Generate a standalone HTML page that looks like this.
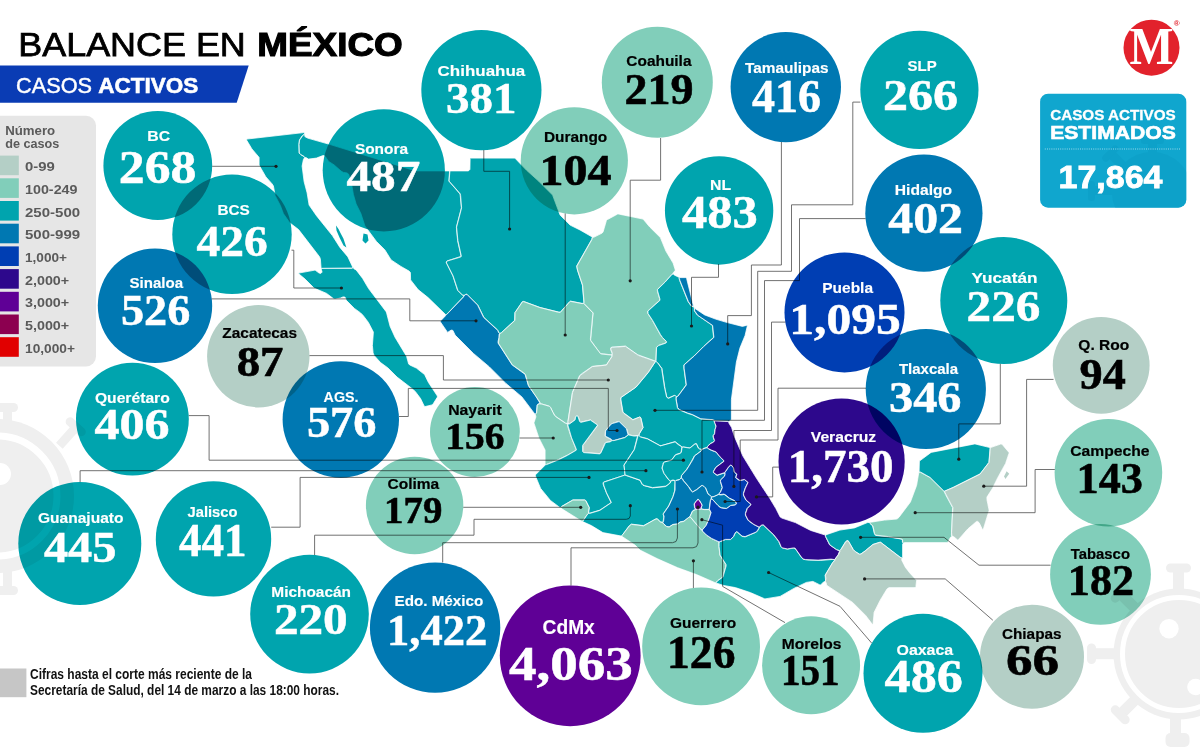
<!DOCTYPE html>
<html lang="es"><head><meta charset="utf-8"><title>Balance en México - Casos activos</title>
<style>
html,body{margin:0;padding:0;background:#fff;}
body{width:1200px;height:747px;overflow:hidden;position:relative;font-family:'Liberation Sans', sans-serif;}
svg{position:absolute;left:0;top:0;display:block;}
.c{mix-blend-mode:multiply;}
.st{stroke:#fff;stroke-width:0.8;stroke-linejoin:round;}
.ln{fill:none;stroke:#585858;stroke-width:0.85;mix-blend-mode:multiply;}
.lb{font-family:'Liberation Sans', sans-serif;font-weight:700;font-size:15.5px;}
.nm{font-family:'Liberation Serif', serif;font-weight:700;font-size:44px;}
.w{fill:#fff;} .k{fill:#000;} .nm.w{stroke:#fff;stroke-width:0.5;} .nm.k{stroke:#000;stroke-width:0.6;} .lb.w{stroke:#fff;stroke-width:0.15;} .lb.k{stroke:#000;stroke-width:0.2;}
.lg{font-family:'Liberation Sans', sans-serif;font-weight:700;font-size:12.8px;fill:#5a5a5a;}
</style></head><body>
<svg width="1200" height="747" viewBox="0 0 1200 747">
<rect width="1200" height="747" fill="#fff"/>
<g id="deco" fill="#efefef" stroke="none">
<g id="virusL" fill="#efefef" stroke="none">
<circle cx="-3" cy="496" r="77"/>
<circle cx="-3" cy="496" r="60" fill="none" stroke="#fff" stroke-width="7"/>
<circle cx="0" cy="474" r="11" fill="#fff"/>
<rect x="3" y="408" width="9" height="24"/>
<rect x="-6" y="403" width="24" height="9" rx="4.5"/>
<rect x="3" y="568" width="9" height="22"/>
<rect x="-6" y="586" width="24" height="9" rx="4.5"/>
<g transform="translate(62,442) rotate(-48)"><rect x="-4.5" y="-4" width="24" height="9"/><rect x="16" y="-12" width="9" height="24" rx="4.5"/></g>
</g>
<g id="virusR" fill="#efefef" stroke="none">
<circle cx="1179" cy="654" r="65.5"/>
<circle cx="1179" cy="654" r="56.5" fill="none" stroke="#fff" stroke-width="5"/>
<circle cx="1169" cy="628.7" r="9.7" fill="#fff"/>
<circle cx="1195.5" cy="687" r="8.3" fill="#fff"/>
<rect x="1173" y="568" width="11" height="22"/>
<rect x="1166" y="563.5" width="25" height="9" rx="4.5"/>
<rect x="1093" y="648.2" width="22" height="11"/>
<rect x="1087" y="643.5" width="9" height="20.5" rx="4.5"/>
<rect x="1170" y="718" width="11" height="22"/>
<rect x="1165.5" y="733" width="24" height="14" rx="5"/>
<g transform="translate(1134,701) rotate(135)"><rect x="-4" y="-5.5" width="22" height="11"/><rect x="15" y="-11.5" width="9" height="23" rx="4.5"/></g>
<g transform="translate(1134,607) rotate(-135)"><rect x="-4" y="-5.5" width="22" height="11"/><rect x="15" y="-11.5" width="9" height="23" rx="4.5"/></g>
</g>

</g>
<path d="M0 115.8 H86 a10 10 0 0 1 10 10 V356.5 a10 10 0 0 1 -10 10 H0 Z" fill="#e6e6e6"/>
<rect x="0" y="155.6" width="18.8" height="19.6" fill="#b4cfc6"/>
<text class="lg" x="25" y="171.2" textLength="29.8" lengthAdjust="spacingAndGlyphs">0-99</text>
<rect x="0" y="178.3" width="18.8" height="19.6" fill="#81ceba"/>
<text class="lg" x="25" y="193.9" textLength="52.5" lengthAdjust="spacingAndGlyphs">100-249</text>
<rect x="0" y="201.0" width="18.8" height="19.6" fill="#00a4ae"/>
<text class="lg" x="25" y="216.6" textLength="55.2" lengthAdjust="spacingAndGlyphs">250-500</text>
<rect x="0" y="223.7" width="18.8" height="19.6" fill="#0078b2"/>
<text class="lg" x="25" y="239.3" textLength="55.2" lengthAdjust="spacingAndGlyphs">500-999</text>
<rect x="0" y="246.4" width="18.8" height="19.6" fill="#003eb3"/>
<text class="lg" x="25" y="262.0" textLength="42.0" lengthAdjust="spacingAndGlyphs">1,000+</text>
<rect x="0" y="269.1" width="18.8" height="19.6" fill="#2d088c"/>
<text class="lg" x="25" y="284.7" textLength="44.2" lengthAdjust="spacingAndGlyphs">2,000+</text>
<rect x="0" y="291.8" width="18.8" height="19.6" fill="#5f0096"/>
<text class="lg" x="25" y="307.4" textLength="44.2" lengthAdjust="spacingAndGlyphs">3,000+</text>
<rect x="0" y="314.5" width="18.8" height="19.6" fill="#8c0050"/>
<text class="lg" x="25" y="330.1" textLength="44.2" lengthAdjust="spacingAndGlyphs">5,000+</text>
<rect x="0" y="337.2" width="18.8" height="19.6" fill="#e10000"/>
<text class="lg" x="25" y="352.8" textLength="50.0" lengthAdjust="spacingAndGlyphs">10,000+</text>
<text class="lg" x="5.2" y="135" style="font-size:13.3px" textLength="50" lengthAdjust="spacingAndGlyphs">Número</text>
<text class="lg" x="5.2" y="147.6" style="font-size:13.3px" textLength="54.2" lengthAdjust="spacingAndGlyphs">de casos</text>
<text x="18.3" y="56.3" style="font-family:'Liberation Sans', sans-serif;font-size:32.7px;fill:#000;stroke:#000;stroke-width:0.75" textLength="227.5" lengthAdjust="spacingAndGlyphs">BALANCE EN</text>
<text x="257.3" y="56.3" style="font-family:'Liberation Sans', sans-serif;font-size:32.7px;font-weight:700;fill:#000;stroke:#000;stroke-width:1.1" textLength="145.5" lengthAdjust="spacingAndGlyphs">MÉXICO</text>
<path d="M0 65.6 H248.7 L236.7 102.7 H0 Z" fill="#0a3cb4"/>
<text x="16" y="93.2" style="font-family:'Liberation Sans', sans-serif;font-size:22.1px;fill:#fff;stroke:#fff;stroke-width:0.45" textLength="76" lengthAdjust="spacingAndGlyphs">CASOS</text>
<text x="98.3" y="93.2" style="font-family:'Liberation Sans', sans-serif;font-size:22.1px;font-weight:700;fill:#fff;stroke:#fff;stroke-width:0.6" textLength="100" lengthAdjust="spacingAndGlyphs">ACTIVOS</text>
<circle cx="1151.5" cy="47.7" r="28" fill="#e2222c"/>
<text x="1151.5" y="63.8" text-anchor="middle" style="font-family:'Liberation Serif', serif;font-weight:700;font-size:52px;fill:#fff" textLength="44" lengthAdjust="spacingAndGlyphs">M</text>
<text x="1176.6" y="25.6" text-anchor="middle" style="font-family:'Liberation Sans', sans-serif;font-weight:700;font-size:8px;fill:#e2222c">®</text>
<rect x="1040.1" y="93.7" width="146.2" height="114" rx="8" ry="8" fill="#10a6ce"/>
<clipPath id="bx"><rect x="1040.1" y="93.7" width="146.2" height="114" rx="8" ry="8"/></clipPath>
<g clip-path="url(#bx)" fill="#0b97bf" opacity="0.35"><circle cx="1152" cy="192" r="40"/><rect x="1148" y="140" width="9" height="16"/><rect x="1141" y="137" width="23" height="7" rx="3.5"/><g transform="translate(1120,163) rotate(-135)"><rect x="-4" y="-4.5" width="16" height="9"/><rect x="10" y="-10" width="7" height="20" rx="3.5"/></g><rect x="1094" y="186" width="20" height="9"/><rect x="1088" y="181" width="7" height="20" rx="3.5"/></g>
<text x="1050.2" y="119.8" style="font-family:'Liberation Sans', sans-serif;font-weight:700;font-size:14.8px;fill:#fff;stroke:#fff;stroke-width:0.3" textLength="125.6" lengthAdjust="spacingAndGlyphs">CASOS ACTIVOS</text>
<text x="1050.2" y="139.3" style="font-family:'Liberation Sans', sans-serif;font-weight:700;font-size:18.2px;fill:#fff;stroke:#fff;stroke-width:0.6" textLength="125.6" lengthAdjust="spacingAndGlyphs">ESTIMADOS</text>
<line x1="1044.8" y1="149" x2="1180" y2="149" stroke="#bfe6f2" stroke-width="0.8" stroke-dasharray="1 1.2"/>
<text x="1058.6" y="188" style="font-family:'Liberation Sans', sans-serif;font-weight:700;font-size:32px;fill:#fff;stroke:#fff;stroke-width:0.9" textLength="103.8" lengthAdjust="spacingAndGlyphs">17,864</text>
<rect x="0" y="668.5" width="26.4" height="28.7" fill="#c6c6c6"/>
<text x="30" y="679" style="font-family:'Liberation Sans', sans-serif;font-size:13.8px;font-weight:700;fill:#111" textLength="222" lengthAdjust="spacingAndGlyphs">Cifras hasta el corte más reciente de la</text>
<text x="30" y="695.3" style="font-family:'Liberation Sans', sans-serif;font-size:13.8px;font-weight:700;fill:#111" textLength="309" lengthAdjust="spacingAndGlyphs">Secretaría de Salud, del 14 de marzo a las 18:00 horas.</text>
<g id="map">
<path fill="#00a4ae" d="M247.0 139.5 L247.0 140.0 L252.2 148.6 L259.3 157.0 L259.4 157.0 L259.4 157.1 L259.4 157.2 L259.5 157.3 L259.5 157.4 L259.5 157.5 L259.5 157.6 L259.5 165.0 L266.2 176.6 L272.4 183.6 L272.4 183.6 L272.5 183.7 L273.7 185.6 L273.7 185.7 L273.7 185.7 L273.8 185.8 L273.8 185.9 L275.5 195.2 L280.7 205.4 L280.8 205.5 L283.7 213.4 L290.2 222.6 L298.8 229.3 L298.9 229.3 L298.9 229.4 L299.0 229.4 L319.9 256.6 L319.9 256.6 L320.0 256.7 L320.0 256.8 L320.7 258.9 L320.8 259.0 L320.8 259.1 L321.5 268.3 L321.5 268.4 L321.5 268.5 L321.5 268.5 L321.5 268.6 L322.4 271.7 L322.4 271.8 L322.5 271.9 L322.5 272.0 L322.5 272.1 L322.4 272.2 L322.4 272.2 L322.4 272.3 L322.4 272.4 L322.3 272.5 L322.3 272.5 L322.2 272.6 L321.3 273.5 L321.3 273.5 L321.2 273.6 L321.1 273.6 L321.0 273.7 L320.9 273.7 L320.8 273.7 L320.8 273.7 L320.7 273.7 L320.6 273.7 L319.2 273.5 L319.1 273.5 L319.0 273.5 L318.9 273.5 L318.9 273.4 L318.8 273.4 L315.0 270.5 L299.1 273.4 L299.2 273.6 L305.4 278.8 L305.4 278.9 L314.3 287.8 L326.7 293.0 L326.8 293.0 L326.9 293.0 L326.9 293.1 L333.6 298.3 L334.9 298.7 L340.2 297.7 L342.8 296.6 L342.9 296.5 L343.0 296.5 L343.1 296.5 L343.2 296.5 L343.2 296.5 L343.3 296.5 L344.7 296.7 L344.8 296.7 L344.9 296.7 L345.0 296.8 L345.1 296.8 L345.1 296.9 L345.2 296.9 L345.3 297.0 L345.3 297.0 L345.9 297.8 L345.9 297.9 L346.0 298.0 L346.0 298.0 L346.0 298.1 L346.5 299.9 L354.6 308.1 L360.8 312.5 L360.9 312.6 L360.9 312.6 L363.4 315.1 L363.5 315.2 L368.7 322.1 L368.7 322.2 L368.7 322.2 L373.7 331.8 L373.7 331.9 L373.7 332.0 L373.7 332.0 L373.8 332.1 L373.8 332.2 L373.8 332.3 L372.8 345.4 L373.5 352.8 L374.5 355.2 L380.9 362.3 L388.1 367.5 L388.1 367.6 L388.2 367.6 L397.4 376.8 L397.4 376.8 L413.3 389.0 L413.4 389.1 L415.9 391.6 L415.9 391.6 L416.0 391.7 L420.9 398.3 L421.0 398.4 L421.0 398.5 L424.5 405.6 L425.0 406.2 L431.9 404.5 L432.8 403.6 L437.0 397.0 L437.0 396.2 L428.1 382.6 L428.0 382.5 L424.3 374.9 L416.2 368.5 L409.5 365.3 L409.4 365.2 L409.4 365.2 L409.3 365.1 L408.4 364.2 L408.4 364.2 L408.3 364.1 L408.3 364.0 L408.2 363.9 L408.2 363.8 L406.2 356.5 L394.8 337.6 L394.7 337.5 L389.8 326.6 L389.7 326.5 L389.7 326.4 L386.2 313.0 L385.5 311.6 L368.3 288.9 L368.3 288.8 L362.3 278.6 L362.3 278.6 L355.9 270.2 L354.0 269.3 L354.0 269.2 L353.9 269.2 L353.8 269.1 L353.7 269.0 L352.9 268.0 L352.9 268.0 L352.8 267.9 L352.7 267.9 L352.6 267.8 L352.6 267.8 L352.5 267.7 L352.5 267.7 L352.4 267.6 L352.4 267.5 L347.5 257.1 L339.6 247.7 L339.5 247.6 L332.0 235.9 L332.0 235.9 L316.3 216.1 L316.3 216.1 L308.9 205.4 L308.8 205.4 L308.8 205.3 L308.7 205.2 L308.7 205.2 L308.7 205.1 L306.7 193.0 L306.7 193.0 L303.7 181.8 L303.7 181.6 L301.7 166.3 L301.7 166.2 L301.7 166.1 L301.7 166.0 L303.0 159.6 L303.0 159.6 L303.0 159.5 L303.0 159.4 L303.1 159.3 L304.1 157.6 L304.2 157.6 L304.2 157.5 L304.3 157.4 L304.4 157.4 L304.5 157.3 L304.5 157.3 L304.6 157.3 L304.7 157.2 L304.8 157.2 L304.9 157.2 L306.0 157.2 L306.1 157.2 L306.1 157.2 L306.2 157.3 L306.3 157.3 L306.4 157.3 L306.5 157.4 L308.5 158.7 L316.3 157.7 L322.6 155.3 L322.7 155.3 L322.8 155.2 L322.9 155.2 L323.0 155.2 L323.9 155.2 L324.0 155.2 L324.1 155.2 L324.2 155.3 L324.3 155.3 L324.4 155.3 L324.4 155.4 L324.5 155.4 L325.8 156.5 L325.9 156.6 L325.9 156.6 L326.0 156.7 L328.9 161.1 L334.3 164.5 L334.4 164.6 L334.4 164.6 L341.4 170.8 L343.5 172.0 L346.8 172.5 L346.9 172.5 L347.0 172.5 L347.1 172.5 L347.1 172.6 L347.2 172.6 L348.7 173.7 L348.8 173.7 L348.8 173.8 L348.9 173.9 L348.9 173.9 L349.0 174.0 L349.0 174.1 L349.1 174.2 L351.7 182.7 L351.8 182.8 L353.8 194.3 L353.8 194.3 L356.5 203.7 L361.2 213.4 L361.3 213.5 L365.2 225.7 L376.7 241.1 L376.7 241.1 L385.1 249.5 L385.2 249.6 L385.2 249.7 L391.4 259.6 L401.1 266.0 L401.1 266.0 L409.3 270.7 L409.3 270.8 L409.4 270.8 L409.4 270.9 L410.5 271.9 L410.6 272.0 L410.6 272.1 L410.7 272.1 L410.7 272.2 L410.7 272.3 L410.8 272.4 L410.8 272.5 L410.8 272.6 L411.0 279.7 L418.4 289.3 L428.4 297.3 L428.4 297.3 L445.7 314.2 L445.8 314.2 L445.9 314.3 L445.9 314.4 L445.9 314.5 L446.0 314.5 L446.0 314.6 L446.0 314.7 L446.0 314.8 L446.0 314.9 L446.0 315.0 L446.0 315.0 L445.8 315.8 L445.8 315.9 L445.7 316.0 L445.7 316.1 L445.6 316.2 L445.6 316.2 L440.8 321.3 L440.8 321.7 L447.7 331.8 L450.7 329.9 L450.8 329.8 L450.9 329.8 L451.0 329.8 L451.1 329.8 L451.2 329.7 L451.3 329.7 L451.4 329.8 L452.7 329.9 L452.7 330.0 L452.8 330.0 L452.9 330.0 L453.0 330.1 L453.1 330.1 L453.1 330.2 L453.2 330.2 L453.3 330.3 L453.3 330.4 L453.3 330.4 L455.5 334.9 L473.6 353.1 L473.6 353.1 L489.6 366.6 L489.7 366.6 L506.1 383.1 L506.1 383.1 L522.1 396.5 L522.2 396.6 L522.2 396.7 L535.4 414.0 L535.4 414.1 L535.5 414.1 L535.6 414.2 L535.6 414.3 L535.7 414.3 L535.7 414.4 L535.8 414.5 L535.8 414.6 L535.8 414.7 L536.2 416.7 L536.2 416.8 L536.3 416.8 L536.2 416.9 L536.2 417.0 L536.2 417.1 L534.3 422.9 L539.2 437.7 L545.4 449.8 L545.5 449.9 L545.5 450.0 L545.5 450.1 L545.5 450.2 L545.5 450.2 L545.5 464.3 L545.5 464.4 L545.5 464.4 L545.5 464.5 L545.5 464.6 L545.5 464.7 L545.5 464.8 L545.3 465.4 L545.3 465.5 L545.2 465.5 L545.2 465.6 L545.1 465.7 L545.1 465.7 L535.8 475.0 L535.8 475.8 L541.0 488.2 L550.6 500.1 L560.4 507.4 L560.5 507.4 L560.6 507.4 L560.7 507.4 L560.8 507.4 L560.8 507.4 L560.9 507.4 L561.0 507.5 L561.1 507.5 L561.2 507.6 L561.2 507.6 L562.6 508.8 L582.2 521.0 L582.3 521.0 L582.4 521.0 L582.4 521.0 L582.5 521.0 L582.6 521.1 L582.7 521.1 L582.7 521.2 L582.8 521.2 L582.9 521.3 L582.9 521.3 L591.5 525.2 L591.6 525.3 L603.0 532.2 L621.6 535.7 L621.7 535.7 L621.8 535.8 L621.8 535.8 L621.9 535.8 L622.0 535.9 L622.1 536.0 L622.1 536.0 L622.2 536.1 L635.3 544.8 L635.4 544.8 L635.4 544.9 L640.4 549.8 L657.3 558.3 L657.3 558.3 L677.5 567.2 L677.5 567.2 L696.7 574.2 L696.8 574.3 L715.7 582.5 L715.7 582.5 L715.8 582.5 L715.9 582.5 L716.0 582.5 L723.5 585.0 L723.5 585.0 L735.4 587.2 L735.5 587.3 L750.5 592.2 L750.5 592.3 L764.9 598.5 L780.0 596.0 L793.7 588.0 L793.7 588.0 L806.1 582.0 L806.2 582.0 L806.3 582.0 L806.4 582.0 L812.7 581.0 L812.7 581.0 L812.8 581.0 L812.9 581.0 L813.0 581.0 L813.1 581.0 L813.2 581.1 L820.0 584.5 L820.5 584.5 L823.2 581.7 L823.3 581.6 L823.4 581.6 L823.4 581.5 L823.5 581.5 L823.6 581.5 L823.7 581.4 L824.8 581.3 L824.9 581.3 L825.0 581.3 L825.1 581.3 L825.2 581.3 L825.3 581.3 L825.3 581.3 L825.4 581.4 L825.5 581.4 L825.6 581.5 L825.6 581.6 L825.6 581.6 L826.2 581.9 L826.2 582.0 L826.3 582.0 L826.4 582.1 L826.4 582.2 L826.5 582.2 L826.5 582.3 L826.5 582.4 L826.6 582.5 L827.0 584.7 L827.9 585.6 L852.8 602.0 L852.9 602.1 L852.9 602.1 L865.9 615.1 L866.0 615.2 L872.6 623.9 L872.7 623.5 L873.7 612.4 L873.7 612.3 L873.7 612.3 L873.8 612.2 L873.8 612.1 L879.8 600.2 L879.8 600.1 L886.5 589.0 L886.5 588.9 L886.6 588.9 L886.6 588.8 L886.7 588.7 L888.5 587.4 L888.6 587.4 L888.6 587.3 L888.7 587.3 L888.8 587.3 L888.9 587.2 L889.0 587.2 L889.0 587.2 L914.9 587.2 L915.5 586.5 L916.2 580.5 L909.8 573.7 L909.8 573.6 L905.1 567.7 L905.0 567.6 L905.0 567.5 L901.3 560.2 L901.3 560.1 L901.3 560.1 L901.3 560.0 L901.3 559.9 L901.3 559.8 L901.3 559.7 L901.3 559.7 L901.3 559.6 L901.7 558.1 L901.7 558.0 L901.8 557.9 L901.8 557.8 L901.9 557.8 L901.9 557.7 L902.0 557.7 L902.0 557.6 L902.1 557.6 L902.2 557.3 L902.2 544.3 L902.2 544.2 L902.2 544.1 L902.3 544.0 L902.3 544.0 L902.3 543.9 L902.4 543.8 L902.4 543.7 L902.9 543.1 L903.0 543.0 L903.0 543.0 L903.1 542.9 L903.2 542.8 L903.2 542.8 L903.3 542.8 L903.4 542.7 L903.5 542.7 L904.0 542.4 L904.1 542.3 L904.2 542.3 L904.3 542.3 L904.3 542.2 L904.4 542.2 L904.5 542.2 L947.4 542.2 L950.0 537.3 L950.0 537.2 L950.1 537.1 L950.1 537.1 L950.2 537.0 L950.3 537.0 L951.6 536.0 L951.7 536.0 L951.8 536.0 L951.8 535.9 L951.9 535.9 L952.0 535.9 L952.1 535.8 L952.2 535.8 L952.3 535.8 L952.4 535.9 L952.5 535.9 L953.6 536.2 L953.7 536.2 L953.8 536.3 L953.9 536.3 L954.0 536.4 L957.7 539.4 L958.4 539.0 L967.3 528.9 L967.4 528.8 L976.2 521.2 L976.3 521.1 L976.4 521.1 L976.4 521.0 L976.5 521.0 L976.6 521.0 L976.7 521.0 L976.8 521.0 L977.4 521.0 L977.5 521.0 L977.6 521.0 L977.7 521.0 L977.8 521.0 L977.9 521.1 L977.9 521.1 L978.0 521.2 L979.3 522.2 L979.4 522.3 L979.4 522.4 L979.5 522.5 L979.5 522.5 L982.7 529.1 L982.7 529.1 L983.0 528.7 L988.7 510.3 L986.5 499.5 L986.5 499.4 L986.5 499.3 L986.5 497.3 L986.5 497.2 L986.5 497.1 L986.5 497.0 L986.5 496.9 L986.6 496.9 L986.6 496.8 L992.3 487.9 L992.3 487.9 L997.3 477.7 L997.3 477.7 L1005.3 463.2 L1008.5 453.6 L1008.5 452.5 L1001.7 444.5 L1000.7 444.5 L990.5 448.0 L990.5 448.0 L990.4 448.0 L990.3 448.0 L990.2 448.0 L990.1 448.0 L990.0 448.0 L974.9 444.3 L931.3 452.7 L919.8 461.3 L919.5 471.7 L919.5 471.8 L919.5 471.9 L919.5 472.0 L919.4 472.0 L919.4 472.1 L919.4 472.2 L919.3 472.3 L919.3 472.3 L919.2 472.3 L917.0 485.4 L917.0 485.5 L917.0 485.6 L910.8 502.2 L910.7 502.3 L910.7 502.3 L910.6 502.4 L899.2 517.6 L899.1 517.7 L898.0 518.8 L897.9 518.9 L897.8 518.9 L897.8 519.0 L897.7 519.0 L896.6 519.5 L896.5 519.5 L896.4 519.5 L896.3 519.5 L884.4 520.5 L884.4 520.5 L869.7 522.8 L869.7 522.8 L869.7 522.8 L869.7 522.8 L869.6 522.8 L869.5 522.8 L869.4 522.8 L869.4 522.8 L867.5 523.0 L854.6 528.2 L854.5 528.3 L854.4 528.3 L840.0 530.5 L825.8 535.2 L825.8 535.3 L825.7 535.3 L825.6 535.4 L825.6 535.4 L825.5 535.4 L825.4 535.4 L825.3 535.4 L825.2 535.5 L825.1 535.4 L825.0 535.4 L825.0 535.4 L810.5 530.8 L810.5 530.7 L810.4 530.7 L795.2 523.0 L781.8 518.5 L781.7 518.5 L781.7 518.5 L781.6 518.4 L780.0 517.3 L779.9 517.2 L779.9 517.2 L779.8 517.1 L779.8 517.0 L779.7 516.9 L775.5 508.8 L775.5 508.8 L769.5 498.8 L769.5 498.8 L756.0 478.3 L756.0 478.3 L742.5 456.4 L742.5 456.2 L734.0 436.6 L734.0 436.5 L731.3 427.8 L728.6 423.4 L728.5 423.3 L728.5 423.3 L728.5 423.2 L728.5 423.1 L728.3 422.2 L728.3 422.1 L728.3 422.0 L728.3 421.9 L728.3 421.8 L728.3 421.7 L728.4 421.6 L728.4 421.5 L728.5 421.5 L728.5 421.4 L728.6 421.4 L729.0 420.8 L729.0 420.7 L729.1 420.6 L729.2 420.6 L729.2 420.5 L729.3 420.5 L731.0 419.6 L731.0 399.4 L731.0 399.3 L736.0 362.1 L736.0 362.0 L739.5 348.1 L739.5 347.9 L744.7 335.2 L746.9 325.9 L746.4 325.8 L742.6 326.7 L742.5 326.7 L742.4 326.8 L742.3 326.8 L742.2 326.7 L742.2 326.7 L727.3 323.0 L727.2 323.0 L715.5 319.5 L715.5 319.5 L704.5 315.3 L704.4 315.2 L704.4 315.2 L694.4 308.6 L694.3 308.6 L694.2 308.5 L694.2 308.4 L694.1 308.4 L694.1 308.3 L694.0 308.2 L694.0 308.1 L694.0 308.1 L694.0 308.0 L693.6 307.4 L693.6 307.4 L693.5 307.3 L693.4 307.3 L693.4 307.2 L693.3 307.1 L693.3 307.0 L693.3 306.9 L693.2 306.9 L693.2 306.8 L693.2 306.7 L693.2 306.7 L686.3 278.6 L685.7 278.0 L679.7 278.0 L679.6 278.0 L679.5 278.0 L679.5 278.0 L679.4 278.0 L679.3 278.0 L679.2 278.0 L679.1 277.9 L674.0 275.3 L674.0 275.2 L673.9 275.2 L673.8 275.1 L673.8 275.1 L673.7 275.0 L673.1 274.1 L673.0 274.1 L673.0 274.0 L672.9 273.9 L672.9 273.8 L672.8 273.8 L672.8 273.7 L672.8 273.6 L672.8 273.5 L672.8 273.4 L672.8 273.3 L673.0 272.7 L673.0 272.6 L673.0 272.5 L673.0 272.4 L673.1 272.3 L673.2 272.3 L674.7 270.5 L674.7 269.4 L672.8 263.3 L665.5 251.4 L665.5 251.3 L665.5 251.2 L660.0 237.8 L649.4 227.2 L649.3 227.1 L642.9 219.5 L617.9 214.3 L607.6 219.9 L606.7 220.8 L603.5 231.9 L603.5 232.0 L603.5 232.0 L603.4 232.1 L603.4 232.2 L602.5 233.3 L602.4 233.4 L602.4 233.4 L602.3 233.5 L602.2 233.5 L594.4 237.4 L594.3 237.5 L594.2 237.5 L594.1 237.5 L592.9 237.7 L592.8 237.7 L592.7 237.7 L592.7 237.7 L592.6 237.7 L592.5 237.7 L592.4 237.6 L592.3 237.6 L592.2 237.6 L592.2 237.5 L592.1 237.4 L592.1 237.4 L579.7 230.2 L579.7 230.2 L570.0 225.5 L569.9 225.5 L569.9 225.4 L569.8 225.3 L559.9 215.5 L559.8 215.4 L559.8 215.3 L559.7 215.2 L559.7 215.2 L552.3 195.3 L538.3 181.4 L538.3 181.4 L526.1 170.4 L526.1 170.4 L514.7 158.5 L470.8 158.5 L470.5 158.8 L470.3 169.2 L470.3 169.3 L470.3 169.4 L470.2 169.5 L470.2 169.6 L470.1 169.7 L470.1 169.7 L469.5 170.5 L469.5 170.6 L469.4 170.6 L469.3 170.7 L469.3 170.7 L469.2 170.8 L468.4 171.2 L468.3 171.2 L468.2 171.2 L468.2 171.3 L468.1 171.3 L468.0 171.3 L449.9 171.3 L449.9 171.3 L449.8 171.3 L449.7 171.3 L449.6 171.3 L449.6 171.3 L415.4 171.3 L415.4 171.3 L415.3 171.3 L415.2 171.2 L330.3 145.0 L330.3 145.0 L307.6 138.5 L307.5 138.5 L307.4 138.4 L304.9 137.1 L304.8 137.1 L304.8 137.0 L304.7 136.9 L304.6 136.9 L304.6 136.8 L304.5 136.7 L304.5 136.7 L304.5 136.6 L304.5 136.5 L304.4 136.4 L304.2 134.2 L304.2 134.2 L304.2 134.1 L304.2 134.0 L304.2 134.0 L304.2 133.9 L304.2 133.8 L304.2 133.4 L303.5 133.0 L247.0 139.5 Z"/>
<path class="st" fill="#00a4ae" d="M246.6 139.1 L246.6 140.1 L251.9 148.9 L259.1 157.4 L259.1 165.1 L265.9 176.9 L272.1 183.9 L273.4 185.9 L275.1 195.4 L280.4 205.6 L283.4 213.6 L289.9 222.9 L298.6 229.6 L319.6 256.9 L320.4 259.1 L321.1 268.4 L351.9 268.1 L352.9 267.6 L347.9 256.9 L339.9 247.4 L332.4 235.6 L316.6 215.9 L309.1 205.1 L307.1 192.9 L304.1 181.6 L302.1 166.1 L303.4 159.6 L304.6 157.6 L304.1 156.6 L300.6 154.6 L299.1 153.1 L298.9 144.4 L299.4 140.1 L301.9 136.1 L304.6 133.9 L304.6 133.1 L303.6 132.6 Z"/>
<path class="st" fill="#00a4ae" d="M298.6 273.1 L298.9 273.9 L305.1 279.1 L314.1 288.1 L326.6 293.4 L333.4 298.6 L334.9 299.1 L340.4 298.1 L343.1 296.9 L344.9 297.1 L345.6 298.1 L346.1 300.1 L354.4 308.4 L360.6 312.9 L363.1 315.4 L368.4 322.4 L373.4 332.1 L372.4 345.4 L373.1 352.9 L374.1 355.4 L380.6 362.6 L387.9 367.9 L397.1 377.1 L413.1 389.4 L415.6 391.9 L420.6 398.6 L424.1 405.9 L424.9 406.6 L432.1 404.9 L433.1 403.9 L437.4 397.1 L437.4 396.1 L428.4 382.4 L424.6 374.6 L416.4 368.1 L409.6 364.9 L408.6 363.9 L406.6 356.4 L395.1 337.4 L390.1 326.4 L386.6 312.9 L385.9 311.4 L368.6 288.6 L362.6 278.4 L356.1 269.9 L354.1 268.9 L353.1 267.6 L351.9 268.4 L321.9 268.4 L321.1 268.6 L322.1 272.1 L320.9 273.4 L319.1 273.1 L315.1 270.1 Z"/>
<path class="st" fill="#00a4ae" d="M302.9 135.4 L299.6 140.1 L299.1 144.4 L299.4 153.1 L300.6 154.4 L304.1 156.4 L304.9 157.6 L306.1 157.6 L308.4 159.1 L316.4 158.1 L322.9 155.6 L324.1 155.6 L325.6 156.9 L328.6 161.4 L334.1 164.9 L341.1 171.1 L343.4 172.4 L346.9 172.9 L348.6 174.1 L351.4 182.9 L353.4 194.4 L356.1 203.9 L360.9 213.6 L364.9 225.9 L376.4 241.4 L384.9 249.9 L391.1 259.9 L400.9 266.4 L409.1 271.1 L410.4 272.4 L410.6 279.9 L418.1 289.6 L428.1 297.6 L445.6 314.6 L446.6 314.4 L463.4 296.9 L463.9 295.6 L462.4 295.1 L457.6 290.4 L452.9 275.9 L446.1 262.1 L447.1 260.9 L461.1 256.4 L457.6 240.6 L456.4 227.1 L461.4 207.9 L460.1 194.1 L448.9 181.1 L449.6 170.9 L415.4 170.9 L330.4 144.6 L307.6 138.1 L304.9 136.6 L304.6 134.1 Z"/>
<path class="st" fill="#00a4ae" d="M449.9 170.9 L449.1 181.1 L460.1 193.6 L460.6 195.4 L461.6 207.9 L456.6 227.1 L457.9 240.6 L461.4 256.4 L460.4 257.1 L447.1 261.1 L446.4 261.9 L446.6 263.1 L453.1 275.9 L457.9 290.4 L462.4 294.9 L464.1 295.4 L466.1 294.1 L467.1 294.4 L477.9 305.1 L483.9 317.4 L497.6 329.9 L499.1 333.1 L500.1 333.4 L501.6 332.4 L514.6 320.4 L514.9 312.6 L522.4 301.6 L523.6 301.4 L539.9 307.4 L558.9 312.1 L560.4 312.1 L569.9 301.4 L570.6 301.1 L582.1 303.4 L583.6 303.1 L583.9 302.4 L582.4 285.1 L577.4 270.1 L576.6 266.1 L591.6 239.6 L592.4 237.1 L579.9 229.9 L570.1 225.1 L560.1 215.1 L552.6 195.1 L538.6 181.1 L526.4 170.1 L514.9 158.1 L470.6 158.1 L470.1 158.6 L469.9 169.4 L469.1 170.4 L468.1 170.9 Z"/>
<path class="st" fill="#81ceba" d="M617.9 213.9 L607.4 219.6 L606.4 220.6 L603.1 231.9 L602.1 233.1 L594.1 237.1 L592.6 237.4 L591.9 239.6 L576.9 266.1 L577.6 270.1 L582.6 285.1 L584.1 302.4 L583.9 303.4 L593.1 312.9 L590.6 340.1 L599.6 352.6 L600.9 353.6 L611.9 354.9 L612.1 353.4 L610.6 349.4 L610.9 347.6 L612.1 347.1 L625.4 346.1 L637.4 354.6 L655.4 361.1 L655.9 360.4 L656.4 347.4 L658.6 345.4 L665.9 342.9 L666.4 341.6 L662.1 337.4 L660.1 334.4 L652.4 320.4 L647.9 313.6 L647.6 311.1 L659.6 300.4 L659.6 298.9 L657.4 290.9 L657.4 289.4 L664.9 282.1 L672.1 274.1 L673.1 273.9 L673.4 272.6 L675.1 270.6 L675.1 269.4 L673.1 263.1 L665.9 251.1 L660.4 237.6 L649.6 226.9 L643.1 219.1 Z"/>
<path class="st" fill="#00a4ae" d="M673.4 273.9 L672.1 274.4 L665.1 282.1 L657.6 289.4 L657.6 290.9 L659.9 298.9 L659.9 300.4 L647.9 311.1 L648.1 313.6 L652.6 320.4 L660.4 334.4 L662.4 337.4 L666.6 341.6 L666.6 342.4 L665.9 343.1 L658.6 345.6 L656.6 347.4 L656.1 360.4 L655.6 361.4 L657.6 362.6 L661.9 368.4 L665.1 389.4 L666.9 397.1 L668.1 398.1 L674.4 395.4 L675.1 395.4 L676.4 396.6 L677.6 396.4 L686.1 384.9 L683.9 368.1 L683.9 364.9 L694.1 355.9 L703.6 346.4 L713.6 337.4 L712.4 325.4 L697.1 314.9 L694.4 310.9 L694.4 307.9 L693.9 307.1 L691.1 305.9 L688.1 301.6 L679.6 280.4 L679.1 278.4 L679.4 277.6 L674.1 274.9 Z"/>
<path class="st" fill="#0078b2" d="M694.4 308.1 L694.6 310.9 L697.9 315.4 L712.6 325.4 L713.9 337.4 L703.6 346.6 L694.1 356.1 L684.1 364.9 L684.1 368.1 L686.4 384.9 L678.1 396.1 L676.4 396.9 L676.1 398.9 L677.6 407.6 L679.4 409.6 L687.6 413.1 L692.4 414.6 L700.9 418.9 L712.4 419.6 L715.9 420.9 L727.6 421.1 L728.9 421.6 L729.4 420.9 L731.4 419.9 L731.4 399.4 L736.4 362.1 L739.9 348.1 L745.1 335.4 L747.4 325.6 L746.4 325.4 L742.4 326.4 L727.4 322.6 L715.6 319.1 L704.6 314.9 Z M679.6 277.6 L679.4 278.4 L679.9 280.4 L688.4 301.6 L691.1 305.6 L693.6 306.6 L686.6 278.4 L685.9 277.6 Z"/>
<path class="st" fill="#0078b2" d="M465.6 294.6 L463.9 295.9 L463.6 296.9 L446.6 314.6 L445.6 314.9 L445.4 315.9 L440.4 321.1 L440.4 321.9 L447.6 332.4 L451.1 330.1 L452.9 330.4 L455.1 335.1 L473.4 353.4 L489.4 366.9 L505.9 383.4 L521.9 396.9 L535.1 414.4 L536.4 412.9 L537.1 405.1 L537.9 404.1 L540.1 403.4 L536.1 396.6 L528.4 385.6 L525.1 374.4 L512.1 364.9 L498.1 343.1 L498.1 341.1 L499.1 337.6 L499.1 334.6 L499.6 333.6 L498.4 332.4 L497.9 330.6 L483.6 317.4 L477.6 305.1 L467.1 294.6 Z"/>
<path class="st" fill="#81ceba" d="M522.4 301.9 L515.1 312.6 L514.9 320.4 L501.6 332.6 L499.6 333.9 L498.4 343.1 L512.4 364.9 L523.9 372.9 L525.4 374.4 L528.6 385.6 L540.1 402.4 L540.4 403.6 L549.4 406.1 L550.6 407.4 L553.1 412.6 L555.6 416.4 L565.6 423.1 L567.9 423.6 L567.9 421.4 L572.4 392.4 L579.6 375.6 L581.1 374.1 L592.4 366.4 L606.4 364.9 L611.6 356.9 L611.9 355.1 L601.9 354.1 L600.4 353.6 L590.6 340.6 L590.4 338.9 L592.9 312.9 L583.6 303.4 L582.1 303.6 L570.6 301.4 L569.9 301.6 L560.4 312.4 L558.9 312.4 L539.9 307.6 L523.6 301.6 Z"/>
<path class="st" fill="#00a4ae" d="M655.4 361.6 L648.4 372.4 L636.1 387.1 L620.9 397.6 L620.9 399.9 L623.1 412.4 L632.9 419.6 L640.1 416.9 L641.1 418.4 L643.1 427.6 L639.6 433.4 L638.9 435.4 L640.6 436.9 L647.4 438.6 L659.6 445.4 L661.4 445.6 L675.1 441.6 L682.1 447.1 L683.1 446.9 L689.9 447.9 L694.9 443.9 L696.4 443.6 L698.4 447.9 L699.6 448.9 L701.9 449.4 L704.4 448.1 L707.1 447.6 L707.4 446.6 L710.1 443.6 L713.6 441.9 L714.4 440.6 L713.1 437.1 L713.1 435.6 L714.4 433.9 L714.9 429.6 L715.9 426.9 L715.1 423.6 L714.1 421.9 L714.4 420.9 L712.4 419.9 L700.9 419.1 L692.4 414.9 L687.6 413.4 L679.4 409.9 L678.1 408.9 L677.4 407.6 L675.9 398.9 L676.1 396.6 L675.1 395.6 L674.4 395.6 L668.4 398.4 L666.6 397.1 L664.4 386.9 L661.6 368.4 L657.4 362.6 L656.1 361.6 Z"/>
<path class="st" fill="#b4cfc6" d="M655.4 361.4 L638.4 355.4 L625.4 346.4 L612.1 347.4 L610.9 347.9 L610.9 349.4 L612.4 353.4 L612.1 356.4 L606.4 365.1 L592.4 366.6 L579.9 375.6 L572.6 392.4 L568.1 421.4 L568.1 423.6 L569.6 423.6 L574.1 420.6 L575.1 419.4 L575.4 417.1 L576.9 415.4 L578.4 416.9 L579.9 421.4 L580.6 422.1 L590.4 419.9 L597.9 425.1 L582.9 445.4 L582.9 451.6 L583.6 452.4 L599.9 453.6 L601.1 451.9 L604.9 443.1 L605.6 442.4 L610.1 441.6 L611.9 440.6 L611.1 439.4 L605.9 436.9 L605.1 436.1 L605.4 430.9 L610.9 424.1 L618.1 421.4 L619.6 421.6 L626.6 428.6 L628.4 434.6 L634.1 435.9 L638.6 435.4 L639.4 433.4 L642.9 427.6 L640.6 417.6 L639.4 417.1 L632.9 419.9 L624.1 413.6 L622.6 411.9 L620.6 399.9 L620.6 397.6 L635.9 387.1 L648.1 372.4 Z"/>
<path class="st" fill="#0078b2" d="M619.1 421.6 L612.1 423.6 L610.4 424.9 L605.6 430.9 L605.4 436.1 L611.1 439.1 L612.1 440.4 L614.1 440.4 L624.9 437.4 L628.1 434.9 L626.4 428.6 Z"/>
<path class="st" fill="#81ceba" d="M539.6 403.9 L537.9 404.4 L537.4 405.1 L536.6 412.9 L535.4 414.4 L535.9 416.9 L533.9 422.9 L538.9 437.9 L545.1 450.1 L545.1 464.4 L546.6 464.4 L557.9 459.9 L567.4 455.1 L575.9 450.4 L576.1 449.4 L570.4 434.9 L567.6 426.1 L567.9 423.9 L565.6 423.4 L555.6 416.6 L554.6 415.6 L550.4 407.4 L549.4 406.4 L541.9 404.1 Z"/>
<path class="st" fill="#00a4ae" d="M576.9 415.6 L575.6 417.1 L575.1 419.9 L569.6 423.9 L568.1 423.9 L567.9 425.1 L571.6 437.9 L576.1 448.6 L576.4 450.1 L567.4 455.4 L557.9 460.1 L546.6 464.6 L545.1 464.6 L544.9 465.4 L535.4 474.9 L535.4 475.9 L540.6 488.4 L550.4 500.4 L560.4 507.9 L561.6 506.4 L572.9 499.9 L584.6 499.9 L585.9 500.6 L589.4 507.6 L588.6 512.9 L589.9 513.1 L599.9 510.1 L611.1 502.6 L606.4 492.9 L603.1 484.1 L603.1 482.6 L604.1 481.9 L624.1 475.4 L625.1 474.6 L623.9 465.1 L634.1 449.6 L637.6 435.9 L634.1 436.1 L628.4 434.9 L624.9 437.6 L614.1 440.6 L612.1 440.6 L610.1 441.9 L605.6 442.6 L600.9 452.9 L599.9 453.9 L583.6 452.6 L582.6 451.6 L582.6 445.4 L597.6 425.1 L590.4 420.1 L580.6 422.4 L579.6 421.4 L578.1 416.9 Z"/>
<path class="st" fill="#81ceba" d="M560.6 507.6 L562.4 509.1 L582.1 521.4 L582.9 521.1 L586.9 514.9 L588.6 513.1 L588.4 510.9 L589.1 507.6 L585.6 500.6 L584.6 500.1 L572.9 500.1 L561.6 506.6 Z"/>
<path class="st" fill="#00a4ae" d="M675.1 481.1 L673.9 480.4 L670.9 480.9 L670.4 482.9 L665.4 486.6 L652.6 487.9 L643.1 485.4 L642.1 484.4 L640.1 480.4 L624.9 475.1 L604.1 482.1 L603.4 482.6 L603.9 485.6 L606.6 492.9 L611.4 502.6 L599.9 510.4 L589.9 513.4 L588.6 513.4 L587.1 514.9 L582.6 521.6 L591.4 525.6 L602.9 532.6 L621.6 536.1 L629.1 525.9 L631.4 524.1 L643.6 525.6 L656.4 518.6 L657.6 518.9 L660.4 521.9 L662.9 522.4 L663.9 517.1 L663.1 513.9 L668.6 505.9 L672.9 496.6 L674.6 490.9 Z"/>
<path class="st" fill="#00a4ae" d="M638.1 435.6 L634.4 449.6 L624.1 465.1 L625.1 474.9 L640.1 480.1 L642.4 484.4 L644.6 485.6 L652.6 487.6 L665.9 486.1 L670.1 482.9 L670.4 481.1 L667.9 479.1 L663.4 472.4 L663.1 470.6 L662.1 468.9 L662.1 467.1 L663.1 464.6 L663.1 463.4 L664.4 461.9 L671.6 459.9 L675.6 454.6 L680.4 453.1 L681.1 452.1 L681.9 446.9 L677.9 444.4 L675.1 441.9 L660.4 445.9 L647.4 438.9 L640.6 437.1 L638.9 435.6 Z"/>
<path class="st" fill="#00a4ae" d="M696.4 443.9 L694.9 444.1 L689.9 448.1 L683.1 447.1 L682.1 447.4 L681.4 452.1 L680.4 453.4 L675.6 454.9 L671.6 460.1 L664.4 462.1 L663.6 462.9 L662.4 467.1 L662.4 468.9 L664.1 473.4 L669.4 480.4 L670.6 480.9 L672.1 480.1 L673.9 480.1 L675.4 480.9 L675.9 480.4 L679.6 479.4 L681.1 477.9 L681.4 475.6 L686.1 470.1 L688.9 465.9 L694.4 455.9 L701.1 450.9 L701.6 449.6 L699.6 449.1 L698.1 447.9 Z"/>
<path class="st" fill="#0078b2" d="M706.1 447.9 L702.1 449.4 L701.1 451.1 L694.6 455.9 L692.6 460.1 L686.9 469.4 L681.6 475.6 L681.4 477.9 L682.6 478.9 L683.1 480.1 L688.6 486.6 L692.1 491.6 L692.6 491.9 L696.9 489.4 L701.4 485.6 L702.4 485.4 L705.6 487.9 L708.1 493.9 L711.6 496.9 L714.1 496.4 L718.6 494.4 L720.4 491.9 L722.1 487.6 L720.4 481.6 L720.4 480.1 L724.1 476.4 L724.9 474.4 L724.6 472.9 L717.1 475.4 L713.4 472.6 L713.4 471.4 L715.6 467.4 L723.6 461.4 L723.6 460.6 L719.9 456.9 L716.1 452.1 L711.4 450.4 L708.4 448.9 L707.4 447.9 Z"/>
<path class="st" fill="#0078b2" d="M704.1 486.6 L702.4 485.6 L701.4 485.9 L696.9 489.6 L692.6 492.1 L690.9 490.6 L688.4 486.6 L683.6 481.1 L682.1 478.6 L681.1 478.1 L679.1 479.9 L675.9 480.6 L675.1 481.6 L675.1 489.9 L673.1 496.6 L668.9 505.9 L663.4 513.9 L663.4 514.9 L664.1 516.1 L663.6 521.1 L662.9 522.6 L663.4 523.6 L666.6 526.4 L669.1 526.9 L672.9 524.4 L677.6 523.9 L680.1 521.9 L683.9 521.1 L689.9 516.6 L692.4 511.1 L693.1 510.4 L695.9 509.4 L694.6 507.9 L694.1 503.9 L697.9 499.1 L699.6 500.4 L702.1 504.9 L701.1 508.9 L704.1 509.4 L709.1 509.4 L710.4 500.1 L711.1 499.1 L711.4 496.6 L707.9 493.9 L705.4 487.9 Z"/>
<path class="st" fill="#81ceba" d="M622.1 535.4 L621.9 536.4 L635.1 545.1 L640.1 550.1 L657.1 558.6 L677.4 567.6 L696.6 574.6 L715.6 582.9 L717.6 580.6 L722.6 577.1 L725.6 567.1 L725.9 564.6 L719.9 555.1 L718.9 546.4 L718.9 541.9 L711.6 538.6 L706.4 535.1 L699.9 528.4 L690.1 516.9 L688.4 517.6 L683.9 521.4 L680.1 522.1 L677.6 524.1 L672.9 524.6 L669.1 527.1 L666.6 526.6 L663.9 524.4 L662.6 522.6 L660.4 522.1 L657.1 518.9 L655.1 519.4 L643.6 525.9 L631.4 524.4 L629.4 525.9 Z"/>
<path class="st" fill="#81ceba" d="M709.4 509.6 L704.1 509.6 L701.4 509.1 L695.6 509.6 L692.6 511.1 L690.1 516.6 L700.1 528.4 L702.1 530.1 L705.9 525.6 L708.9 518.9 L710.9 512.6 Z"/>
<path class="st" fill="#00a4ae" d="M719.1 542.1 L719.1 546.4 L720.1 555.1 L726.1 564.6 L726.1 566.1 L722.9 577.1 L717.6 580.9 L715.9 582.9 L723.4 585.4 L735.4 587.6 L750.4 592.6 L764.9 598.9 L780.1 596.4 L793.9 588.4 L806.4 582.4 L812.9 581.4 L819.9 584.9 L820.6 584.9 L823.6 581.9 L825.1 581.6 L825.6 580.4 L825.1 575.1 L832.4 562.9 L834.6 560.1 L834.4 559.6 L833.1 559.4 L820.9 560.4 L809.4 560.1 L803.4 559.4 L801.9 558.1 L795.1 548.4 L793.6 548.1 L787.4 549.1 L782.4 548.1 L780.9 546.6 L778.6 541.4 L773.6 534.9 L762.9 524.9 L761.9 525.1 L759.4 527.4 L758.1 530.1 L756.4 532.1 L745.1 536.9 L742.1 536.4 L737.6 532.4 L736.4 531.9 L735.4 532.9 L733.6 536.6 L730.6 539.6 L725.4 539.6 Z"/>
<path class="st" fill="#003eb3" d="M730.9 465.1 L729.1 466.4 L724.9 472.6 L725.1 474.4 L724.4 476.4 L720.6 480.1 L720.6 481.6 L722.4 487.6 L720.6 491.9 L718.9 494.1 L719.9 494.6 L723.6 494.1 L725.1 494.6 L729.4 498.1 L734.6 500.6 L735.9 501.9 L736.4 503.9 L735.4 504.9 L730.6 505.6 L726.4 508.6 L721.4 507.9 L720.1 507.4 L718.1 505.6 L712.1 499.1 L711.4 499.1 L710.6 500.1 L709.4 509.1 L711.1 512.6 L709.1 518.9 L706.1 525.6 L702.4 529.9 L702.6 531.1 L706.4 534.9 L711.6 538.4 L719.1 541.9 L725.4 539.4 L730.6 539.4 L733.4 536.6 L735.1 532.9 L736.4 531.6 L737.6 532.1 L742.1 536.1 L745.1 536.6 L756.4 531.9 L759.1 527.9 L758.6 526.9 L753.9 524.6 L749.4 521.6 L747.9 520.1 L745.4 515.1 L745.4 513.4 L747.1 508.4 L750.6 504.9 L750.6 504.1 L745.9 500.1 L743.4 495.1 L743.4 493.4 L745.1 488.1 L747.9 482.4 L744.4 479.6 L739.9 480.6 L738.6 480.1 L735.6 477.6 L736.6 474.1 L734.1 472.1 L733.4 467.9 L732.9 466.9 Z"/>
<path class="st" fill="#0078b2" d="M711.6 497.1 L711.4 498.9 L712.1 498.9 L718.1 505.4 L720.1 507.1 L721.4 507.6 L726.4 508.4 L730.6 505.4 L735.4 504.6 L736.1 503.9 L735.6 501.9 L734.6 500.9 L729.4 498.4 L724.1 494.4 L721.9 494.9 L719.9 494.9 L718.9 494.4 L714.1 496.6 Z"/>
<path class="st" fill="#2d088c" d="M714.6 420.9 L714.4 421.9 L716.1 426.1 L715.1 429.6 L714.6 433.9 L713.4 435.6 L713.4 437.1 L714.6 440.6 L713.6 442.1 L710.1 443.9 L707.6 446.6 L707.4 447.6 L708.4 448.6 L711.4 450.1 L716.1 451.9 L720.1 456.9 L723.9 460.6 L723.9 461.4 L715.9 467.4 L713.6 471.4 L713.6 472.6 L717.1 475.1 L724.6 472.6 L728.9 466.4 L730.9 464.9 L733.1 466.9 L733.6 467.9 L734.4 472.1 L736.9 474.1 L735.9 477.6 L739.9 480.4 L744.4 479.4 L748.1 482.4 L745.4 488.1 L743.6 493.4 L743.6 495.1 L746.1 500.1 L750.9 504.1 L750.9 504.9 L747.4 508.4 L745.6 513.4 L745.6 515.1 L748.1 520.1 L753.9 524.4 L759.1 527.1 L761.9 524.9 L763.4 524.9 L773.9 534.9 L778.9 541.4 L781.1 546.6 L782.4 547.9 L787.4 548.9 L793.6 547.9 L795.1 548.1 L801.4 557.1 L803.4 559.1 L805.6 559.6 L818.1 560.1 L831.1 559.1 L834.6 559.6 L838.1 554.9 L839.6 550.9 L836.4 549.6 L829.6 544.9 L825.4 536.4 L825.4 535.1 L810.6 530.4 L795.4 522.6 L781.9 518.1 L780.1 516.9 L775.9 508.6 L769.9 498.6 L756.4 478.1 L742.9 456.1 L734.4 436.4 L731.6 427.6 L728.9 423.1 L728.6 421.6 Z"/>
<path class="st" fill="#5f0096" d="M698.4 499.4 L696.4 500.9 L694.4 503.9 L694.9 507.9 L696.1 509.4 L700.9 508.9 L701.1 507.1 L701.9 505.9 L701.4 503.9 Z"/>
<path class="st" fill="#00a4ae" d="M825.6 534.9 L825.6 536.4 L829.9 544.9 L836.4 549.4 L839.6 550.6 L840.4 550.1 L845.6 541.6 L847.1 540.6 L848.1 540.6 L853.4 549.6 L855.4 551.6 L859.6 554.1 L860.9 553.9 L865.1 550.9 L872.9 544.4 L880.4 542.1 L900.1 557.1 L901.6 557.9 L902.4 557.9 L902.6 557.4 L902.6 544.1 L903.4 543.1 L902.4 542.1 L902.4 539.6 L900.4 538.9 L888.4 536.9 L875.6 535.4 L874.4 533.6 L872.6 525.9 L869.9 523.4 L869.4 522.4 L867.4 522.6 L854.4 527.9 L839.9 530.1 Z"/>
<path class="st" fill="#b4cfc6" d="M847.1 540.9 L845.9 541.6 L841.1 549.4 L839.9 550.6 L839.9 551.6 L838.4 554.9 L835.1 559.1 L834.6 560.9 L832.6 562.9 L825.4 575.1 L825.9 578.4 L825.4 581.9 L826.1 582.4 L826.6 584.9 L827.6 585.9 L852.6 602.4 L865.6 615.4 L872.6 624.6 L873.1 623.6 L874.1 612.4 L880.1 600.4 L886.9 589.1 L888.9 587.6 L915.1 587.6 L915.9 586.6 L916.6 580.4 L910.1 573.4 L905.4 567.4 L901.6 559.9 L902.1 558.1 L900.1 557.4 L880.9 542.6 L879.6 542.4 L872.9 544.6 L865.1 551.1 L860.9 554.1 L859.6 554.4 L855.4 551.9 L853.1 549.6 L848.4 541.1 Z"/>
<path class="st" fill="#81ceba" d="M952.6 507.6 L945.4 494.4 L944.4 491.6 L930.1 477.6 L920.6 472.4 L918.9 472.1 L916.6 485.4 L910.4 502.1 L898.9 517.4 L897.6 518.6 L896.4 519.1 L884.4 520.1 L869.6 522.4 L870.1 523.4 L872.9 525.9 L874.6 533.6 L875.6 535.1 L888.4 536.6 L901.4 538.9 L902.6 539.6 L902.6 542.1 L903.6 543.1 L904.4 542.6 L947.6 542.6 L950.4 537.4 L951.9 536.4 L951.4 535.1 Z"/>
<path class="st" fill="#00a4ae" d="M990.1 447.6 L974.9 443.9 L931.1 452.4 L919.4 461.1 L919.1 471.9 L920.6 472.1 L930.1 477.4 L943.4 490.6 L944.6 491.1 L953.1 487.4 L980.1 473.9 L988.9 462.4 Z"/>
<path class="st" fill="#b4cfc6" d="M1001.9 444.1 L1000.6 444.1 L990.4 447.6 L989.1 462.4 L980.1 474.1 L953.1 487.6 L944.4 491.4 L952.9 507.6 L951.6 532.4 L951.9 536.1 L953.6 536.6 L957.6 539.9 L958.6 539.4 L967.6 529.1 L976.6 521.4 L977.6 521.4 L979.1 522.6 L982.4 529.4 L982.9 529.6 L983.4 528.9 L989.1 510.4 L986.9 499.4 L986.9 497.1 L992.6 488.1 L997.6 477.9 L1005.6 463.4 L1008.9 453.6 L1008.9 452.4 Z"/>
<path fill="#00a4ae" d="M336 225.4 L338.5 229 L341 234 L343.4 238.5 L346.4 247.5 L343.5 245.5 L339.5 237.5 L336.5 230.5 Z M363.5 233.4 L367.5 234.4 L368.5 240.4 L365.5 243.5 L362.5 240.4 Z"/>
<path fill="#b4cfc6" d="M1006.6 471.3 L1009.2 473.8 L1005.4 478.9 L1004.1 476.3 Z"/>
</g>
<g id="circles">
<circle class="c" cx="157.8" cy="165.5" r="54.4" fill="#00a4ae"/>
<circle class="c" cx="232.0" cy="234.3" r="59.7" fill="#00a4ae"/>
<circle class="c" cx="155.0" cy="305.8" r="57.2" fill="#0078b2"/>
<circle class="c" cx="258.3" cy="356.2" r="51.2" fill="#b4cfc6"/>
<circle class="c" cx="132.4" cy="419.1" r="56.4" fill="#00a4ae"/>
<circle class="c" cx="340.8" cy="419.5" r="58.2" fill="#0078b2"/>
<circle class="c" cx="79.8" cy="543.4" r="61.5" fill="#00a4ae"/>
<circle class="c" cx="213.5" cy="538.9" r="57.7" fill="#00a4ae"/>
<circle class="c" cx="309.5" cy="614.1" r="59.3" fill="#00a4ae"/>
<circle class="c" cx="435.1" cy="627.6" r="65.2" fill="#0078b2"/>
<circle class="c" cx="570.2" cy="655.8" r="70.4" fill="#5f0096"/>
<circle class="c" cx="701.1" cy="646.4" r="58.9" fill="#81ceba"/>
<circle class="c" cx="811.1" cy="665.2" r="49.0" fill="#81ceba"/>
<circle class="c" cx="923.0" cy="673.3" r="59.5" fill="#00a4ae"/>
<circle class="c" cx="1032.0" cy="656.7" r="52.0" fill="#b4cfc6"/>
<circle class="c" cx="1100.5" cy="574.4" r="50.4" fill="#81ceba"/>
<circle class="c" cx="1108.4" cy="472.7" r="53.8" fill="#81ceba"/>
<circle class="c" cx="1101.2" cy="365.3" r="48.4" fill="#b4cfc6"/>
<circle class="c" cx="1003.8" cy="300.5" r="63.5" fill="#00a4ae"/>
<circle class="c" cx="925.8" cy="389.0" r="60.1" fill="#0078b2"/>
<circle class="c" cx="841.6" cy="461.5" r="63.1" fill="#2d088c"/>
<circle class="c" cx="844.5" cy="312.4" r="60.0" fill="#003eb3"/>
<circle class="c" cx="923.9" cy="213.2" r="58.6" fill="#0078b2"/>
<circle class="c" cx="919.4" cy="89.8" r="59.1" fill="#00a4ae"/>
<circle class="c" cx="785.8" cy="87.1" r="55.2" fill="#0078b2"/>
<circle class="c" cx="719.1" cy="210.5" r="54.2" fill="#00a4ae"/>
<circle class="c" cx="657.3" cy="82.2" r="55.5" fill="#81ceba"/>
<circle class="c" cx="574.3" cy="160.8" r="53.6" fill="#81ceba"/>
<circle class="c" cx="481.4" cy="90.1" r="60.1" fill="#00a4ae"/>
<circle class="c" cx="383.8" cy="170.3" r="61.1" fill="#00a4ae"/>
<circle class="c" cx="474.9" cy="432.0" r="44.9" fill="#81ceba"/>
<circle class="c" cx="414.6" cy="505.5" r="48.7" fill="#81ceba"/>
</g>
<g id="lines">
<polyline class="ln" points="212.2,166.3 276.0,166.3"/>
<polyline class="ln" points="291.5,250.2 293.8,250.2 293.8,288.0 341.4,288.0"/>
<polyline class="ln" points="211.7,298.9 409.8,298.9 409.8,320.8 476.0,320.8"/>
<polyline class="ln" points="309.5,355.6 443.4,355.6 443.4,380.0 608.3,380.0"/>
<polyline class="ln" points="399.0,416.5 408.3,416.5 408.3,388.4 608.3,388.4 608.3,430.5 617.0,430.5"/>
<polyline class="ln" points="519.5,438.0 553.2,438.0"/>
<polyline class="ln" points="188.8,415.6 209.1,415.6 209.1,460.2 683.4,460.2"/>
<polyline class="ln" points="80.1,482.0 80.1,470.7 645.9,470.7"/>
<polyline class="ln" points="271.2,527.2 300.1,527.2 300.1,477.4 589.0,477.4"/>
<polyline class="ln" points="463.3,507.3 580.7,507.3"/>
<polyline class="ln" points="314.6,555.0 314.6,535.2 474.0,535.2 474.0,519.3 626.3,519.3 629.0,518.5 630.3,516.0 630.3,505.7"/>
<polyline class="ln" points="442.7,562.5 442.7,542.7 672.5,542.7 676.0,541.5 677.4,538.0 677.4,509.0"/>
<polyline class="ln" points="571.0,585.5 571.0,547.8 693.0,547.8 696.5,546.6 698.0,543.0 698.0,507.2"/>
<polyline class="ln" points="693.4,560.8 693.4,588.0"/>
<polyline class="ln" points="701.9,519.7 722.6,525.2 722.6,586.4 785.0,622.6"/>
<polyline class="ln" points="768.6,572.5 840.0,606.3 871.6,643.0"/>
<polyline class="ln" points="864.6,578.9 945.2,578.9 992.8,620.2"/>
<polyline class="ln" points="860.6,537.3 944.0,537.3 979.0,565.2 1050.6,565.2"/>
<polyline class="ln" points="915.2,512.7 1035.1,512.7 1035.1,469.5 1054.8,469.5"/>
<polyline class="ln" points="983.8,486.2 1026.6,486.2 1026.6,379.4 1053.5,379.4"/>
<polyline class="ln" points="958.8,459.2 958.8,423.9 1000.3,423.9 1000.3,363.9"/>
<polyline class="ln" points="781.4,142.0 781.4,265.0 751.4,265.0 751.4,315.6 727.7,315.6 727.7,343.9"/>
<polyline class="ln" points="718.5,264.0 718.5,277.3 691.5,277.3 691.5,326.0"/>
<polyline class="ln" points="660.6,138.0 660.6,180.2 630.2,180.2 630.2,280.8"/>
<polyline class="ln" points="565.2,213.5 565.2,335.0"/>
<polyline class="ln" points="483.8,150.0 483.8,171.3 509.6,171.3 509.6,229.0"/>
<polyline class="ln" points="860.3,102.1 852.8,102.1 852.8,204.8 791.5,204.8 791.5,271.3 757.7,271.3 757.7,410.3 655.0,410.3"/>
<polyline class="ln" points="865.5,218.6 799.5,218.6 799.5,280.6 764.5,280.6 764.5,420.3 702.0,420.3 702.0,472.0"/>
<polyline class="ln" points="785.5,322.1 771.5,322.1 771.5,430.5 733.9,430.5 733.9,486.4"/>
<polyline class="ln" points="866.0,388.2 778.0,388.2 778.0,440.0 740.2,440.0 740.2,501.5 725.1,501.5"/>
<polyline class="ln" points="778.8,467.1 772.7,467.1 772.7,496.9 756.5,496.9"/>
<circle cx="276.0" cy="166.3" r="1.6" fill="#1a1a1a"/>
<circle cx="341.4" cy="288.0" r="1.6" fill="#1a1a1a"/>
<circle cx="476.0" cy="320.8" r="1.6" fill="#1a1a1a"/>
<circle cx="608.3" cy="380.0" r="1.6" fill="#1a1a1a"/>
<circle cx="617.0" cy="430.5" r="1.6" fill="#1a1a1a"/>
<circle cx="553.2" cy="438.0" r="1.6" fill="#1a1a1a"/>
<circle cx="683.4" cy="460.2" r="1.6" fill="#1a1a1a"/>
<circle cx="645.9" cy="470.7" r="1.6" fill="#1a1a1a"/>
<circle cx="589.0" cy="477.4" r="1.6" fill="#1a1a1a"/>
<circle cx="580.7" cy="507.3" r="1.6" fill="#1a1a1a"/>
<circle cx="630.3" cy="505.7" r="1.6" fill="#1a1a1a"/>
<circle cx="677.4" cy="509.0" r="1.6" fill="#1a1a1a"/>
<circle cx="698.0" cy="507.2" r="1.6" fill="#1a1a1a"/>
<circle cx="693.4" cy="560.8" r="1.6" fill="#1a1a1a"/>
<circle cx="701.9" cy="519.7" r="1.6" fill="#1a1a1a"/>
<circle cx="768.6" cy="572.5" r="1.6" fill="#1a1a1a"/>
<circle cx="864.6" cy="578.9" r="1.6" fill="#1a1a1a"/>
<circle cx="860.6" cy="537.3" r="1.6" fill="#1a1a1a"/>
<circle cx="915.2" cy="512.7" r="1.6" fill="#1a1a1a"/>
<circle cx="983.8" cy="486.2" r="1.6" fill="#1a1a1a"/>
<circle cx="958.8" cy="459.2" r="1.6" fill="#1a1a1a"/>
<circle cx="727.7" cy="343.9" r="1.6" fill="#1a1a1a"/>
<circle cx="691.5" cy="326.0" r="1.6" fill="#1a1a1a"/>
<circle cx="630.2" cy="280.8" r="1.6" fill="#1a1a1a"/>
<circle cx="565.2" cy="335.0" r="1.6" fill="#1a1a1a"/>
<circle cx="509.6" cy="229.0" r="1.6" fill="#1a1a1a"/>
<circle cx="655.0" cy="410.3" r="1.6" fill="#1a1a1a"/>
<circle cx="702.0" cy="472.0" r="1.6" fill="#1a1a1a"/>
<circle cx="733.9" cy="486.4" r="1.6" fill="#1a1a1a"/>
<circle cx="725.1" cy="501.5" r="1.6" fill="#1a1a1a"/>
<circle cx="756.5" cy="496.9" r="1.6" fill="#1a1a1a"/>
</g>
<g id="texts">
<text class="lb w" x="147.3" y="140.6" style="font-size:15.3px" textLength="22.9" lengthAdjust="spacingAndGlyphs">BC</text>
<text class="nm w" x="118.8" y="182.6" style="font-size:45.9px" textLength="77.6" lengthAdjust="spacingAndGlyphs">268</text>
<text class="lb w" x="217.4" y="215.2" style="font-size:15.3px" textLength="32.4" lengthAdjust="spacingAndGlyphs">BCS</text>
<text class="nm w" x="196.5" y="255.8" style="font-size:45.3px" textLength="71.2" lengthAdjust="spacingAndGlyphs">426</text>
<text class="lb w" x="129.4" y="288.1" style="font-size:15.3px" textLength="53.7" lengthAdjust="spacingAndGlyphs">Sinaloa</text>
<text class="nm w" x="121.0" y="324.7" style="font-size:43.8px" textLength="69.3" lengthAdjust="spacingAndGlyphs">526</text>
<text class="lb k" x="222.3" y="337.9" style="font-size:15.3px" textLength="74.7" lengthAdjust="spacingAndGlyphs">Zacatecas</text>
<text class="nm k" x="236.7" y="376.2" style="font-size:43.2px" textLength="46.8" lengthAdjust="spacingAndGlyphs">87</text>
<text class="lb w" x="94.9" y="403.1" style="font-size:15.3px" textLength="74.9" lengthAdjust="spacingAndGlyphs">Querétaro</text>
<text class="nm w" x="94.5" y="438.9" style="font-size:43.3px" textLength="75.0" lengthAdjust="spacingAndGlyphs">406</text>
<text class="lb w" x="323.6" y="401.5" style="font-size:15.3px" textLength="34.9" lengthAdjust="spacingAndGlyphs">AGS.</text>
<text class="nm w" x="306.9" y="437.3" style="font-size:43.8px" textLength="69.5" lengthAdjust="spacingAndGlyphs">576</text>
<text class="lb w" x="38.0" y="522.6" style="font-size:15.3px" textLength="85.5" lengthAdjust="spacingAndGlyphs">Guanajuato</text>
<text class="nm w" x="43.9" y="562.2" style="font-size:44.5px" textLength="72.5" lengthAdjust="spacingAndGlyphs">445</text>
<text class="lb w" x="187.5" y="517.1" style="font-size:15.3px" textLength="50.0" lengthAdjust="spacingAndGlyphs">Jalisco</text>
<text class="nm w" x="179.1" y="556.4" style="font-size:46.3px" textLength="67.5" lengthAdjust="spacingAndGlyphs">441</text>
<text class="lb w" x="271.3" y="597.1" style="font-size:15.3px" textLength="79.7" lengthAdjust="spacingAndGlyphs">Michoacán</text>
<text class="nm w" x="273.9" y="633.9" style="font-size:45.3px" textLength="73.8" lengthAdjust="spacingAndGlyphs">220</text>
<text class="lb w" x="394.5" y="605.6" style="font-size:15.3px" textLength="88.7" lengthAdjust="spacingAndGlyphs">Edo. México</text>
<text class="nm w" x="387.1" y="644.7" style="font-size:45.3px" textLength="100.1" lengthAdjust="spacingAndGlyphs">1,422</text>
<text class="lb w" x="542.6" y="634.4" style="font-size:20.5px" textLength="52.2" lengthAdjust="spacingAndGlyphs">CdMx</text>
<text class="nm w" x="508.9" y="679.7" style="font-size:48.1px" textLength="123.8" lengthAdjust="spacingAndGlyphs">4,063</text>
<text class="lb k" x="670.0" y="627.6" style="font-size:15.3px" textLength="66.2" lengthAdjust="spacingAndGlyphs">Guerrero</text>
<text class="nm k" x="667.1" y="667.7" style="font-size:47.1px" textLength="68.3" lengthAdjust="spacingAndGlyphs">126</text>
<text class="lb k" x="781.8" y="648.9" style="font-size:15.3px" textLength="59.7" lengthAdjust="spacingAndGlyphs">Morelos</text>
<text class="nm k" x="780.9" y="685.2" style="font-size:45.1px" textLength="58.5" lengthAdjust="spacingAndGlyphs">151</text>
<text class="lb w" x="896.5" y="654.7" style="font-size:15.3px" textLength="56.7" lengthAdjust="spacingAndGlyphs">Oaxaca</text>
<text class="nm w" x="884.6" y="692.2" style="font-size:46.3px" textLength="78.2" lengthAdjust="spacingAndGlyphs">486</text>
<text class="lb k" x="1001.9" y="638.5" style="font-size:15.3px" textLength="59.7" lengthAdjust="spacingAndGlyphs">Chiapas</text>
<text class="nm k" x="1006.0" y="675.3" style="font-size:45.1px" textLength="53.0" lengthAdjust="spacingAndGlyphs">66</text>
<text class="lb k" x="1070.7" y="558.9" style="font-size:15.3px" textLength="59.3" lengthAdjust="spacingAndGlyphs">Tabasco</text>
<text class="nm k" x="1067.8" y="594.7" style="font-size:45.3px" textLength="66.3" lengthAdjust="spacingAndGlyphs">182</text>
<text class="lb k" x="1070.2" y="455.7" style="font-size:15.3px" textLength="79.3" lengthAdjust="spacingAndGlyphs">Campeche</text>
<text class="nm k" x="1076.6" y="493.3" style="font-size:45.1px" textLength="66.3" lengthAdjust="spacingAndGlyphs">143</text>
<text class="lb k" x="1078.3" y="350.1" style="font-size:15.3px" textLength="50.9" lengthAdjust="spacingAndGlyphs">Q. Roo</text>
<text class="nm k" x="1079.6" y="388.9" style="font-size:44.1px" textLength="46.2" lengthAdjust="spacingAndGlyphs">94</text>
<text class="lb w" x="971.5" y="283.1" style="font-size:15.3px" textLength="66.0" lengthAdjust="spacingAndGlyphs">Yucatán</text>
<text class="nm w" x="966.6" y="321.4" style="font-size:45.1px" textLength="73.8" lengthAdjust="spacingAndGlyphs">226</text>
<text class="lb w" x="898.9" y="373.5" style="font-size:15.3px" textLength="59.2" lengthAdjust="spacingAndGlyphs">Tlaxcala</text>
<text class="nm w" x="889.0" y="411.6" style="font-size:44.1px" textLength="72.5" lengthAdjust="spacingAndGlyphs">346</text>
<text class="lb w" x="810.8" y="442.1" style="font-size:15.3px" textLength="65.4" lengthAdjust="spacingAndGlyphs">Veracruz</text>
<text class="nm w" x="787.8" y="482.1" style="font-size:46.3px" textLength="105.8" lengthAdjust="spacingAndGlyphs">1,730</text>
<text class="lb w" x="822.3" y="292.6" style="font-size:15.3px" textLength="50.7" lengthAdjust="spacingAndGlyphs">Puebla</text>
<text class="nm w" x="789.3" y="333.9" style="font-size:45.1px" textLength="111.6" lengthAdjust="spacingAndGlyphs">1,095</text>
<text class="lb w" x="894.8" y="195.3" style="font-size:15.3px" textLength="57.3" lengthAdjust="spacingAndGlyphs">Hidalgo</text>
<text class="nm w" x="888.2" y="232.8" style="font-size:45.1px" textLength="74.9" lengthAdjust="spacingAndGlyphs">402</text>
<text class="lb w" x="907.6" y="70.8" style="font-size:15.3px" textLength="29.1" lengthAdjust="spacingAndGlyphs">SLP</text>
<text class="nm w" x="882.9" y="109.7" style="font-size:45.3px" textLength="75.0" lengthAdjust="spacingAndGlyphs">266</text>
<text class="lb w" x="745.0" y="72.6" style="font-size:15.3px" textLength="83.5" lengthAdjust="spacingAndGlyphs">Tamaulipas</text>
<text class="nm w" x="751.9" y="112.2" style="font-size:46.3px" textLength="69.0" lengthAdjust="spacingAndGlyphs">416</text>
<text class="lb w" x="710.0" y="190.0" style="font-size:15.3px" textLength="21.1" lengthAdjust="spacingAndGlyphs">NL</text>
<text class="nm w" x="682.1" y="228.4" style="font-size:46.0px" textLength="75.7" lengthAdjust="spacingAndGlyphs">483</text>
<text class="lb k" x="626.3" y="65.6" style="font-size:15.3px" textLength="65.2" lengthAdjust="spacingAndGlyphs">Coahuila</text>
<text class="nm k" x="624.4" y="103.9" style="font-size:45.3px" textLength="69.0" lengthAdjust="spacingAndGlyphs">219</text>
<text class="lb k" x="543.9" y="142.0" style="font-size:15.3px" textLength="63.4" lengthAdjust="spacingAndGlyphs">Durango</text>
<text class="nm k" x="539.5" y="184.6" style="font-size:44.4px" textLength="72.0" lengthAdjust="spacingAndGlyphs">104</text>
<text class="lb w" x="437.6" y="75.6" style="font-size:15.3px" textLength="87.7" lengthAdjust="spacingAndGlyphs">Chihuahua</text>
<text class="nm w" x="445.9" y="113.2" style="font-size:45.3px" textLength="70.5" lengthAdjust="spacingAndGlyphs">381</text>
<text class="lb w" x="354.9" y="153.8" style="font-size:15.3px" textLength="53.2" lengthAdjust="spacingAndGlyphs">Sonora</text>
<text class="nm w" x="346.5" y="191.4" style="font-size:45.3px" textLength="73.8" lengthAdjust="spacingAndGlyphs">487</text>
<text class="lb k" x="448.2" y="415.4" style="font-size:15.3px" textLength="53.5" lengthAdjust="spacingAndGlyphs">Nayarit</text>
<text class="nm k" x="445.3" y="449.4" style="font-size:38.6px" textLength="59.2" lengthAdjust="spacingAndGlyphs">156</text>
<text class="lb k" x="387.5" y="488.8" style="font-size:15.3px" textLength="51.7" lengthAdjust="spacingAndGlyphs">Colima</text>
<text class="nm k" x="384.1" y="523.4" style="font-size:38.8px" textLength="58.2" lengthAdjust="spacingAndGlyphs">179</text>
</g>
</svg>
</body></html>
